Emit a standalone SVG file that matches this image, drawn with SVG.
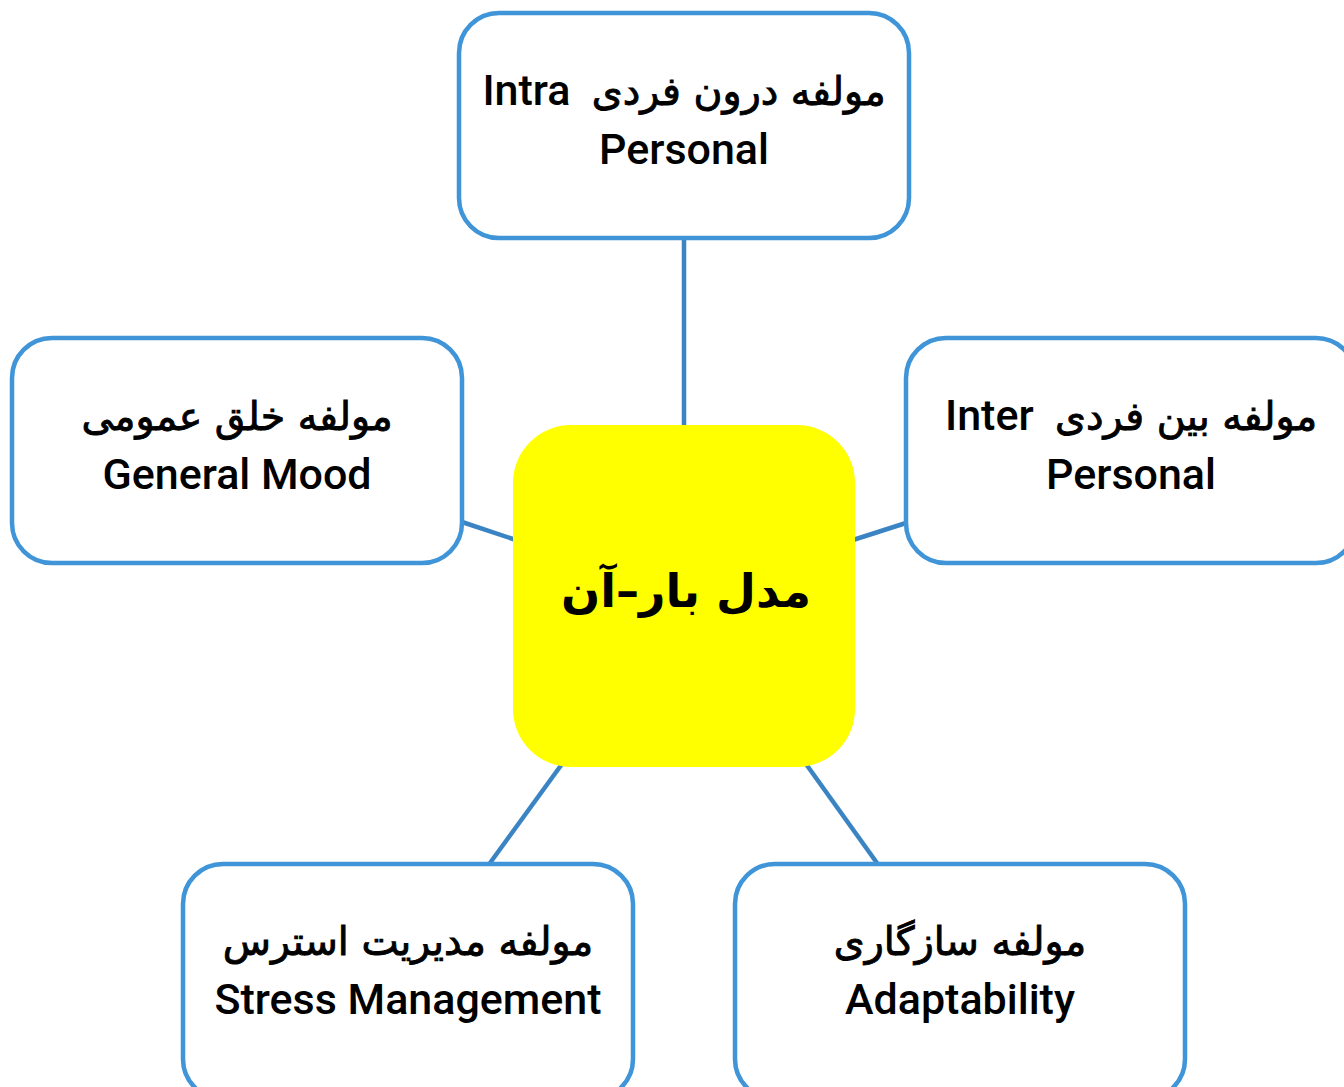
<svg xmlns="http://www.w3.org/2000/svg" width="1344" height="1087" viewBox="0 0 1344 1087">
<style>
.box{fill:#fff;stroke:#3f95d8;stroke-width:4.5}
.conn{stroke:#3a84c4;stroke-width:4.5;fill:none}
.t{font-family:Roboto,"DejaVu Sans",sans-serif;font-size:43px;font-weight:500;fill:#000;text-anchor:middle}
.fa{direction:rtl;unicode-bidi:embed;white-space:pre}
.ar{font-family:"DejaVu Sans",sans-serif;font-size:39.5px;font-weight:normal;stroke:#000;stroke-width:0.9}
.la{font-family:Roboto,sans-serif;font-size:43px;font-weight:500;stroke:none}
.c{font-family:"DejaVu Sans",Roboto,sans-serif;font-size:46px;font-weight:bold;fill:#000;text-anchor:middle;direction:rtl;unicode-bidi:embed}
</style>
<rect width="1344" height="1087" fill="#fff"/>
<g id="connectors">
<line class="conn" x1="684" y1="238" x2="684" y2="428"/>
<line class="conn" x1="462" y1="522" x2="516" y2="540"/>
<line class="conn" x1="853" y1="540" x2="906" y2="523"/>
<line class="conn" x1="562" y1="764" x2="490" y2="863"/>
<line class="conn" x1="806" y1="764" x2="877" y2="863"/>
</g>
<g id="node-center">
<rect x="513" y="425" width="342" height="342" rx="58" fill="#ffff00"/>
<text class="c" x="686" y="607">مدل بار–آن</text>
</g>
<g id="node-intra">
<rect class="box" x="459" y="13" width="450" height="225" rx="40"/>
<text class="t fa" x="684" y="105"><tspan class="ar">مولفه درون فردی</tspan><tspan class="la">  Intra</tspan></text>
<text class="t" x="684" y="164">Personal</text>
</g>
<g id="node-inter">
<rect class="box" x="906" y="338" width="450" height="225" rx="40"/>
<text class="t fa" x="1131" y="430"><tspan class="ar">مولفه بین فردی</tspan><tspan class="la">  Inter</tspan></text>
<text class="t" x="1131" y="489">Personal</text>
</g>
<g id="node-mood">
<rect class="box" x="12" y="338" width="450" height="225" rx="40"/>
<text class="t fa ar" x="237" y="430">مولفه خلق عمومی</text>
<text class="t" x="237" y="489">General Mood</text>
</g>
<g id="node-stress">
<rect class="box" x="183" y="864" width="450" height="235" rx="40"/>
<text class="t fa ar" x="408" y="955">مولفه مدیریت استرس</text>
<text class="t" x="408" y="1014">Stress Management</text>
</g>
<g id="node-adapt">
<rect class="box" x="735" y="864" width="450" height="235" rx="40"/>
<text class="t fa ar" x="960" y="955">مولفه سازگاری</text>
<text class="t" x="960" y="1014">Adaptability</text>
</g>
</svg>
